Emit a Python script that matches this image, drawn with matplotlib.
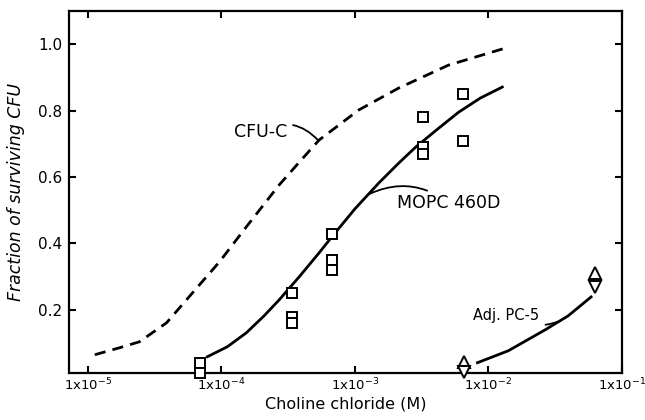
import matplotlib
matplotlib.use("Agg")
import matplotlib.pyplot as plt

# ---- data ----
xticks = [1e-5, 1e-4, 1e-3, 1e-2, 1e-1]
xticklabels = [r"1x10$^{-5}$", r"1x10$^{-4}$", r"1x10$^{-3}$", r"1x10$^{-2}$", r"1x10$^{-1}$"]
yticks = [0.2, 0.4, 0.6, 0.8, 1.0]
yticklabels = ["0.2", "0.4", "0.6", "0.8", "1.0"]

# CFU-C dashed curve
cfu_x = [1.13e-5, 1.73e-5, 2.44e-5, 3.89e-5, 5.48e-5, 6.85e-5, 9.66e-5, 1.54e-4,
         2.71e-4, 3.82e-4, 5.38e-4, 1.07e-3, 2.13e-3, 5.02e-3, 1.41e-2]
cfu_y = [0.065, 0.086, 0.104, 0.161, 0.230, 0.275, 0.344, 0.450,
         0.576, 0.644, 0.711, 0.802, 0.868, 0.937, 0.991]

# MOPC 460D solid curve
mopc_x = [7.87e-5, 1.11e-4, 1.54e-4, 2.09e-4, 2.71e-4, 3.82e-4, 5.38e-4, 6.73e-4,
          1.0e-3, 1.51e-3, 2.13e-3, 2.85e-3, 4.24e-3, 5.97e-3, 8.71e-3, 1.27e-2]
mopc_y = [0.059, 0.089, 0.131, 0.182, 0.230, 0.299, 0.371, 0.420,
          0.504, 0.582, 0.642, 0.690, 0.747, 0.795, 0.838, 0.871]

# MOPC 460D data points (squares)
sq_x = [6.97e-5, 6.97e-5, 3.39e-4, 3.39e-4, 3.39e-4, 6.73e-4, 6.73e-4, 6.73e-4,
        3.21e-3, 3.21e-3, 3.21e-3, 6.5e-3, 6.5e-3]
sq_y = [0.04, 0.01, 0.25, 0.18, 0.16, 0.43, 0.35, 0.32,
        0.78, 0.69, 0.67, 0.85, 0.71]

# Adj. PC-5 solid curve
adj_x = [8.28e-3, 1.41e-2, 2.66e-2, 3.95e-2, 5.87e-2]
adj_y = [0.041, 0.077, 0.140, 0.182, 0.239]

# Adj. PC-5 data points
tri_up_x = [6.6e-3, 6.3e-2]
tri_up_y = [0.044, 0.31]
tri_dn_x = [6.6e-3, 6.3e-2]
tri_dn_y = [0.014, 0.27]

# ---- figure ----
fig = plt.figure(figsize=(6.45, 4.20), dpi=100)
ax = fig.add_axes([69/645, 1-373/420, (622-69)/645, (373-11)/420])
ax.set_xscale("log")
ax.set_xlim(10**-5.14, 10**-1.0)
ax.set_ylim(0.01, 1.10)

ax.plot(cfu_x, cfu_y, color="black", lw=2.0, ls=(0, (4, 2.6)), dash_capstyle="butt")
ax.plot(mopc_x, mopc_y, color="black", lw=2.0)
ax.plot(adj_x, adj_y, color="black", lw=2.0)

ax.plot(sq_x, sq_y, ls="none", marker="s", ms=7, mfc="white", mec="black", mew=1.4,
        clip_on=False, zorder=5)
ax.plot(tri_up_x, tri_up_y, ls="none", marker="^", ms=8, mfc="white", mec="black", mew=1.4,
        clip_on=False, zorder=5)
ax.plot(tri_dn_x, tri_dn_y, ls="none", marker="v", ms=8, mfc="white", mec="black", mew=1.4,
        clip_on=False, zorder=5)

ax.set_xticks(xticks)
ax.set_xticklabels(xticklabels)
ax.set_yticks(yticks)
ax.set_yticklabels(yticklabels)
ax.minorticks_off()
ax.tick_params(direction="in", length=5, width=1.5, top=True, right=True, pad=5)
ax.tick_params(axis="x", labelsize=9.5, pad=3)
ax.tick_params(axis="y", labelsize=11)
for s in ax.spines.values():
    s.set_linewidth(1.6)

ax.set_xlabel("Choline chloride (M)", fontsize=11.5, labelpad=2)
ax.set_ylabel("Fraction of surviving CFU", fontsize=12.5, style="italic", labelpad=9)

# annotations
ax.annotate("CFU-C", xy=(5.3e-4, 0.711), xytext=(1.25e-4, 0.735), fontsize=12.5,
            ha="left", va="center",
            arrowprops=dict(arrowstyle="-", lw=1.3, color="black",
                            connectionstyle="arc3,rad=-0.4", shrinkA=2, shrinkB=0))
ax.annotate("MOPC 460D", xy=(1.3e-3, 0.55), xytext=(2.06e-3, 0.522), fontsize=12.5,
            ha="left", va="center",
            arrowprops=dict(arrowstyle="-", lw=1.3, color="black",
                            connectionstyle="arc3,rad=0.3", shrinkA=1, shrinkB=0))
ax.annotate("Adj. PC-5", xy=(3.5e-2, 0.168), xytext=(7.6e-3, 0.182), fontsize=10.5,
            ha="left", va="center",
            arrowprops=dict(arrowstyle="-", lw=1.3, color="black",
                            connectionstyle="arc3,rad=0.25", shrinkA=3, shrinkB=0))

fig.savefig("out.png", dpi=100)
